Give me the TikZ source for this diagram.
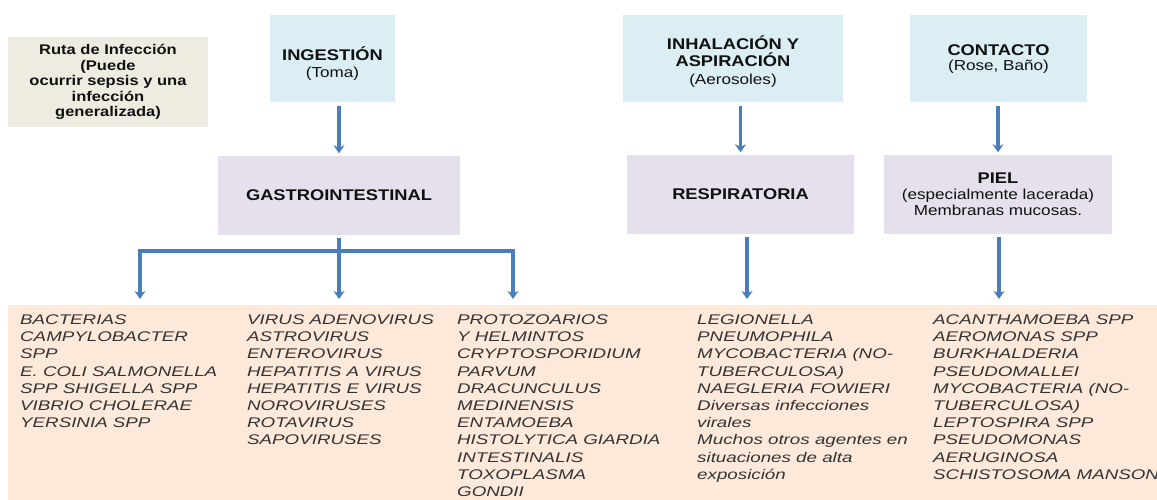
\documentclass[tikz,border=0pt]{standalone}
\usepackage{fontspec}
\setmainfont{Liberation Sans}
\newfontfamily\hdfont[FakeStretch=1.18]{Liberation Sans}
\newfontfamily\bdfont[FakeStretch=1.34]{Liberation Sans}
\usetikzlibrary{arrows.meta}
\definecolor{arrblue}{HTML}{4A7EBB}
\definecolor{boxblue}{HTML}{DBEEF4}
\definecolor{boxlilac}{HTML}{E5E0EC}
\definecolor{bandpeach}{HTML}{FDE9D9}
\definecolor{boxbeige}{HTML}{EEECE1}
\definecolor{bodytext}{HTML}{333333}
\definecolor{headtext}{HTML}{111111}
\tikzset{
  box/.style={inner sep=0pt, align=center, text=headtext, font=\hdfont\fontsize{14.5}{16.5}\selectfont},
  topbox/.style={box, fill=boxblue, minimum height=87pt},
  midbox/.style={box, fill=boxlilac, minimum height=78pt},
  boxlabel/.style={inner sep=0pt, align=center, text=headtext},
  listtext/.style={anchor=north west, inner sep=0pt, align=left, text=bodytext,
    font=\bdfont\itshape\fontsize{14}{17.2}\selectfont},
  ln/.style={draw=arrblue, line width=3.2pt},
  arr/.style={ln, -{Stealth[length=8pt,width=11pt,inset=2.5pt]}}
}
\newcommand{\hb}[1]{{\bfseries\fontsize{15.5}{17.5}\selectfont #1}}
\begin{document}
\begin{tikzpicture}[x=1pt,y=-1pt]
\useasboundingbox (0,0) rectangle (1157,500);
\clip (0,0) rectangle (1157,500);

% top boxes
\node[box, fill=boxbeige, minimum width=200pt, minimum height=90pt,
  font=\hdfont\bfseries\fontsize{14}{15.6}\selectfont] (ruta) at (108,82)
  {Ruta de Infección\\(Puede\\ocurrir sepsis y una\\infección\\generalizada)};
\node[topbox, minimum width=125pt,
  label={[boxlabel, yshift=-5pt, font=\hdfont\fontsize{14.5}{17}\selectfont]center:{\hb{INGESTIÓN}\\(Toma)}}]
  (ing) at (332.5,58.5) {};
\node[topbox, minimum width=220pt,
  label={[boxlabel, yshift=-3pt, font=\hdfont\fontsize{14.5}{17.5}\selectfont]center:{\hb{INHALACIÓN Y}\\\hb{ASPIRACIÓN}\\(Aerosoles)}}]
  (inh) at (733,58.5) {};
\node[topbox, minimum width=177pt,
  label={[boxlabel, yshift=-0.5pt, font=\hdfont\fontsize{14.5}{15}\selectfont]center:{\hb{CONTACTO}\\(Rose, Baño)}}]
  (con) at (998.5,58.5) {};

% middle boxes
\node[midbox, minimum width=242pt] (gas) at (339,195.5) {\hb{GASTROINTESTINAL}};
\node[midbox, minimum width=227pt] (res) at (740.5,194.5) {\hb{RESPIRATORIA}};
\node[midbox, minimum width=228pt, font=\hdfont\fontsize{14.5}{15.8}\selectfont] (piel) at (998,194.5)
  {\hb{PIEL}\\(especialmente lacerada)\\Membranas mucosas.};

% bottom band
\node[fill=bandpeach, inner sep=0pt, minimum width=1149pt, minimum height=195pt,
  anchor=north west] (band) at (8,305) {};

\node[listtext] (c1) at (20,314.5) {BACTERIAS\\CAMPYLOBACTER\\SPP\\E. COLI SALMONELLA\\SPP SHIGELLA SPP\\VIBRIO CHOLERAE\\YERSINIA SPP};
\node[listtext] (c2) at (247,314.5) {VIRUS ADENOVIRUS\\ASTROVIRUS\\ENTEROVIRUS\\HEPATITIS A VIRUS\\HEPATITIS E VIRUS\\NOROVIRUSES\\ROTAVIRUS\\SAPOVIRUSES};
\node[listtext] (c3) at (457,314.5) {PROTOZOARIOS\\Y HELMINTOS\\CRYPTOSPORIDIUM\\PARVUM\\DRACUNCULUS\\MEDINENSIS\\ENTAMOEBA\\HISTOLYTICA GIARDIA\\INTESTINALIS\\TOXOPLASMA\\GONDII};
\node[listtext] (c4) at (697,314.5) {LEGIONELLA\\PNEUMOPHILA\\MYCOBACTERIA (NO-\\TUBERCULOSA)\\NAEGLERIA FOWIERI\\Diversas infecciones\\virales\\Muchos otros agentes en\\situaciones de alta\\exposición};
\node[listtext] (c5) at (933,314.5) {ACANTHAMOEBA SPP\\AEROMONAS SPP\\BURKHALDERIA\\PSEUDOMALLEI\\MYCOBACTERIA (NO-\\TUBERCULOSA)\\LEPTOSPIRA SPP\\PSEUDOMONAS\\AERUGINOSA\\SCHISTOSOMA MANSONI};

% arrow targets on the band
\coordinate (t1) at (140,299);
\coordinate (t2) at (339,299);
\coordinate (t3) at (513,299);
\coordinate (t4) at (747,299);
\coordinate (t5) at (999,299);
\coordinate (j) at (339,251);

% connectors
\draw[arr, shorten <=4pt, shorten >=3pt] (ing.south -| gas.north) -- (gas.north);
\draw[arr, shorten <=4pt, shorten >=3pt] (inh.south -| res.north) -- (res.north);
\draw[arr, shorten <=4pt, shorten >=3pt] (con.south -| piel.north) -- (piel.north);

\draw[ln, shorten <=3pt] (gas.south) -- (j);
\draw[arr] (j) -| (t1);
\draw[arr] (j) -- (t2);
\draw[arr] (j) -| (t3);
\draw[arr, shorten <=3pt] (res.south -| t4) -- (t4);
\draw[arr, shorten <=3pt] (piel.south -| t5) -- (t5);
\end{tikzpicture}
\end{document}
